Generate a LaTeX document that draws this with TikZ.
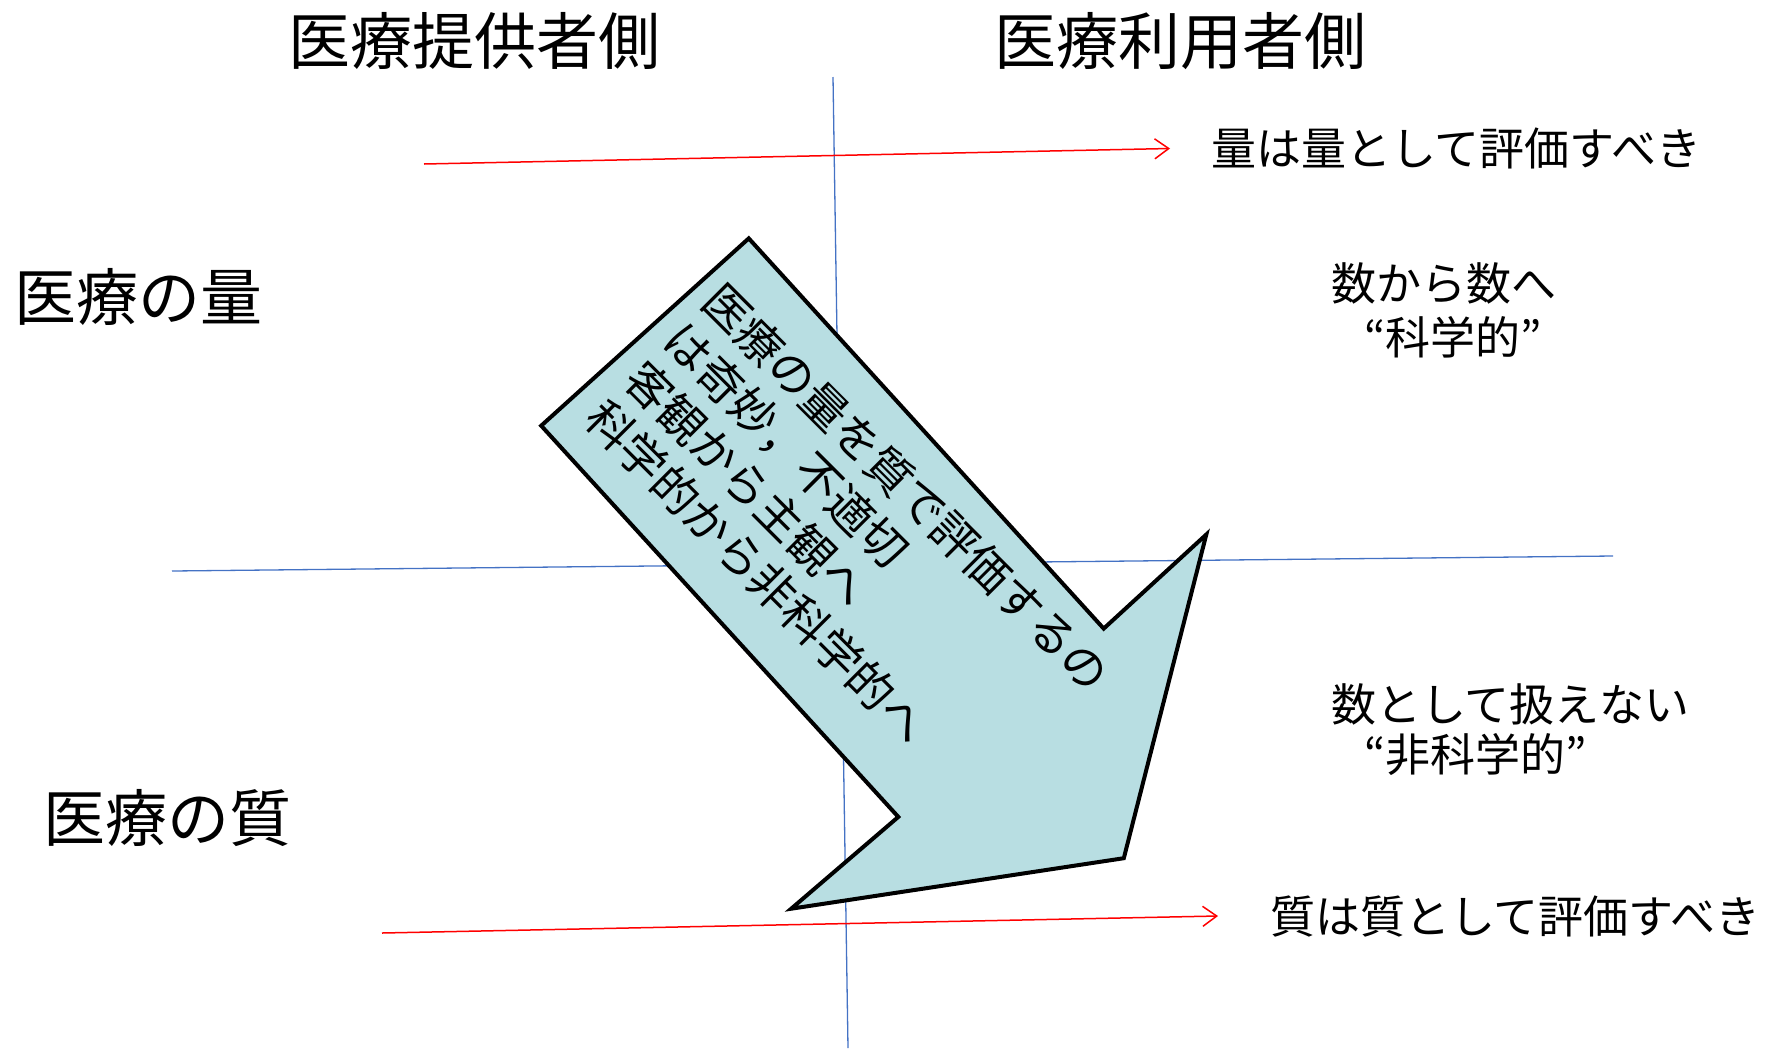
\documentclass[tikz,border=0pt]{standalone}
\usepackage{fontspec}
\setmainfont{Noto Sans CJK JP}
\usetikzlibrary{arrows.meta}
\definecolor{arrowfill}{RGB}{184,222,226}
\definecolor{axisblue}{RGB}{68,114,196}
\begin{document}
\begin{tikzpicture}[x=1pt,y=-1pt,
  axis/.style={draw=axisblue,line width=1.3pt},
  redarrow/.style={draw=red,line width=1.5pt,-{Straight Barb[length=14pt,width=20pt,line width=1.5pt]}},
  bigtxt/.style={inner sep=0pt,font=\fontsize{62}{70}\selectfont},
  midtxt/.style={inner sep=0pt,anchor=west,font=\fontsize{45}{54}\selectfont},
  bigarrow/.style={draw=black,line width=4pt,fill=arrowfill,line join=miter}]
\useasboundingbox (0,0) rectangle (1777,1050);
% axes
\coordinate (vtop) at (833,77);
\coordinate (vbot) at (848,1048);
\coordinate (hleft) at (172,571);
\coordinate (hright) at (1613,556);
\draw[axis] (vtop) -- (vbot);
\draw[axis] (hleft) -- (hright);
% red arrows
\coordinate (r1a) at (424,164);
\coordinate (r1b) at (1170,148.5);
\coordinate (r2a) at (382,933);
\coordinate (r2b) at (1218,916);
\draw[redarrow] (r1a) -- (r1b);
\draw[redarrow] (r2a) -- (r2b);
% big arrow
\coordinate (aTop) at (748.75,238.4);
\coordinate (aLeft) at (541.2,425.7);
\coordinate (aNotchIn) at (898.3,816.9);
\coordinate (aTip) at (791.2,908.7);
\coordinate (aBotR) at (1123.8,858.2);
\coordinate (aHeadR) at (1206.3,534.5);
\coordinate (aNotchR) at (1103.7,628.6);
\draw[bigarrow] (aTop) -- (aLeft) -- (aNotchIn) -- (aTip) -- (aBotR) -- (aHeadR) -- (aNotchR) -- cycle;
\node[rotate=-45,align=left,inner sep=0pt,font=\fontsize{46}{55}\selectfont] (arrowtext) at (848,546)
  {医療の量を質で評価するの\\は奇妙，不適切\\客観から主観へ\\科学的から非科学的へ};
% titles
\node[bigtxt] (prov) at (474,41) {医療提供者側};
\node[bigtxt] (user) at (1180,41) {医療利用者側};
\node[bigtxt,anchor=west] (qty) at (14,297) {医療の量};
\node[bigtxt,anchor=west] (qual) at (43,818) {医療の質};
% right texts
\node[midtxt] (t1) at (1211,148.5) {量は量として評価すべき};
\node[midtxt] (t2) at (1331,283) {数から数へ};
\node[midtxt] (t3) at (1364,337) {“科学的”};
\node[midtxt] (t4) at (1331,704) {数として扱えない};
\node[midtxt] (t5) at (1364,755) {“非科学的”};
\node[midtxt] (t6) at (1270,916) {質は質として評価すべき};
\end{tikzpicture}
\end{document}
